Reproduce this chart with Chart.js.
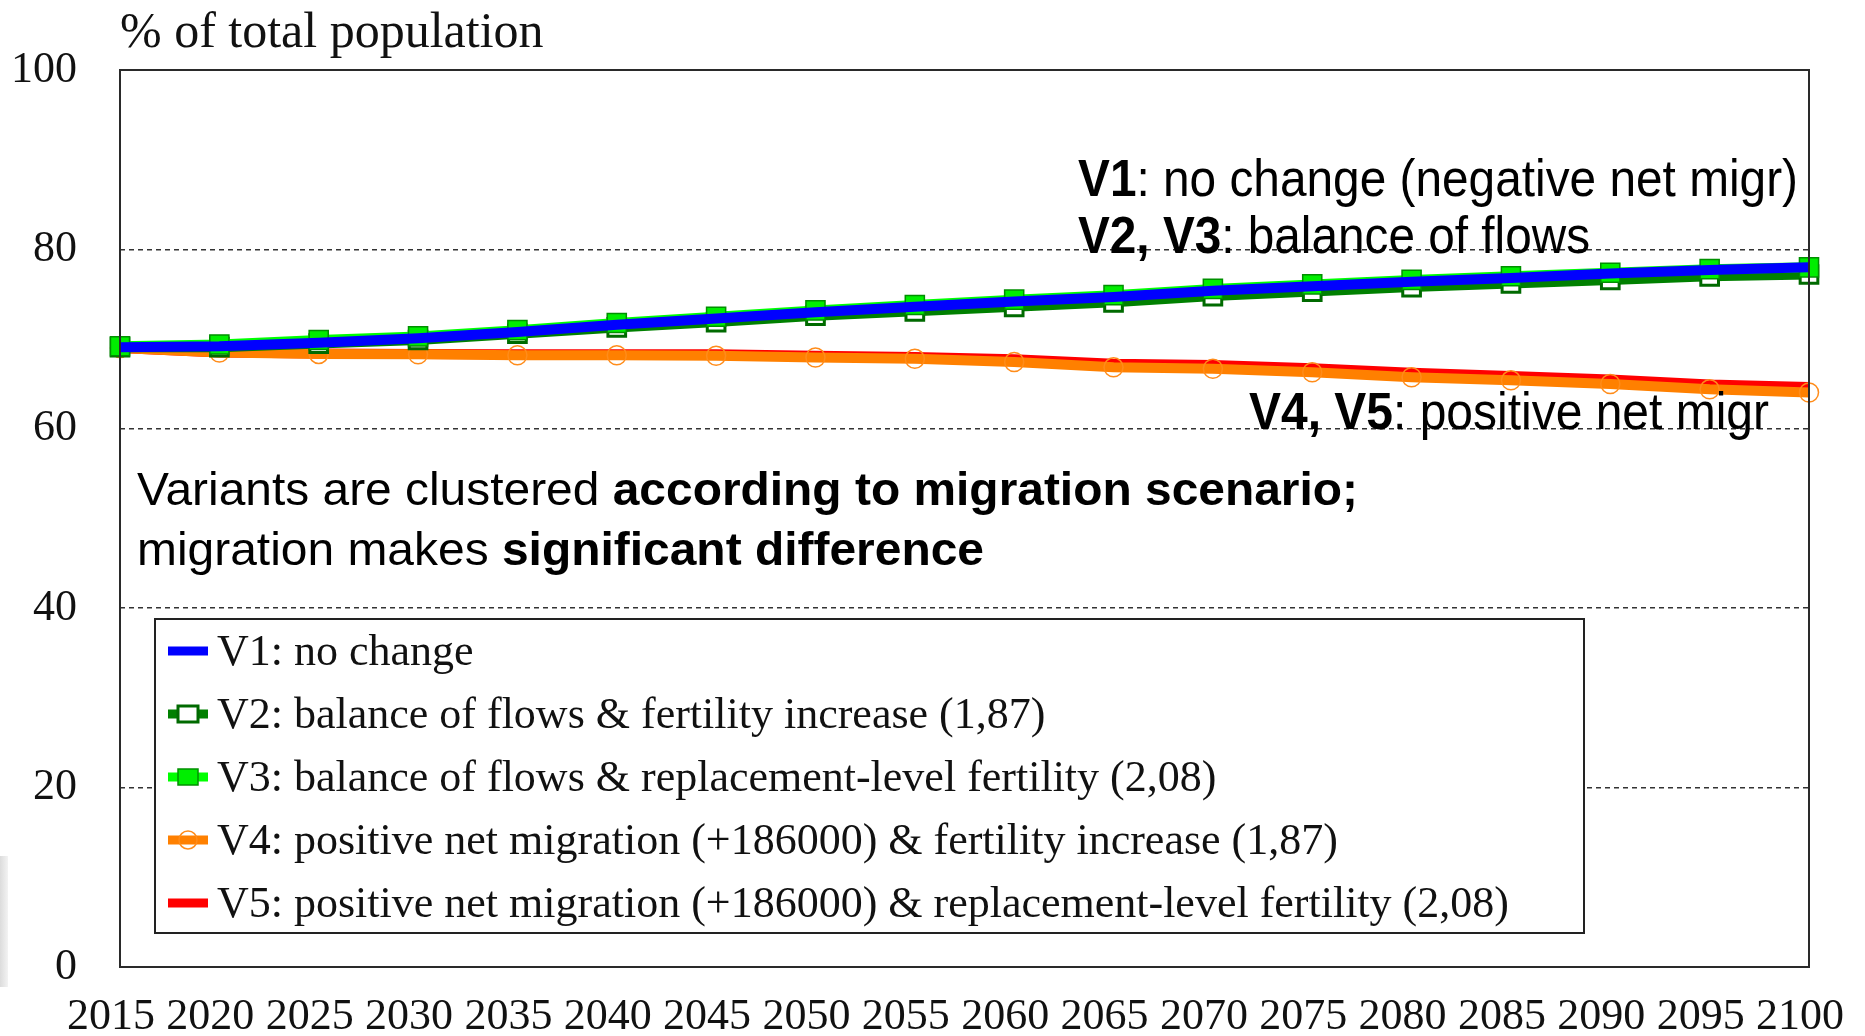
<!DOCTYPE html>
<html><head><meta charset="utf-8">
<script src="https://cdn.jsdelivr.net/npm/chart.js@4.4.1/dist/chart.umd.min.js"></script>
<style>
html,body{margin:0;padding:0;background:#fff;}
#wrap{position:relative;width:1865px;height:1036px;overflow:hidden;}
#shade{position:absolute;left:0;top:856px;width:8px;height:131px;background:linear-gradient(to right,#dcdcdc,#f3f3f3);}
</style></head><body>
<div id="wrap"><canvas id="c" width="1865" height="1036"></canvas><div id="shade"></div></div>
<script>
// ---- data ----
const years = ['2015','2020','2025','2030','2035','2040','2045','2050','2055','2060','2065','2070','2075','2080','2085','2090','2095','2100'];
const yTicks = [0, 20, 40, 60, 80, 100];
const v1 = [69.1, 69.2, 69.6, 70.1, 70.8, 71.6, 72.3, 73.0, 73.6, 74.2, 74.7, 75.4, 75.9, 76.4, 76.8, 77.3, 77.7, 78.0];
const v2 = [69.1, 69.1, 69.5, 69.9, 70.6, 71.3, 71.9, 72.6, 73.1, 73.6, 74.1, 74.8, 75.3, 75.8, 76.2, 76.6, 77.0, 77.2];
const v3 = [69.2, 69.4, 69.9, 70.3, 71.0, 71.8, 72.5, 73.2, 73.8, 74.4, 74.9, 75.6, 76.1, 76.6, 77.0, 77.4, 77.8, 78.0];
const v4 = [69.0, 68.5, 68.35, 68.3, 68.2, 68.2, 68.15, 67.95, 67.8, 67.45, 66.85, 66.7, 66.3, 65.75, 65.4, 65.0, 64.4, 64.05];
const v5 = [69.0, 68.5, 68.4, 68.35, 68.3, 68.3, 68.3, 68.15, 68.0, 67.75, 67.25, 67.1, 66.75, 66.25, 65.9, 65.5, 64.95, 64.65];
const seriesLabels = [
  'V1: no change',
  'V2: balance of flows & fertility increase (1,87)',
  'V3: balance of flows & replacement-level fertility (2,08)',
  'V4: positive net migration (+186000) & fertility increase (1,87)',
  'V5: positive net migration (+186000) & replacement-level fertility (2,08)'
];
const axisTitle = '% of total population';
const noteV1 = [['V1', true], [': no change (negative net migr)', false]];
const noteV23 = [['V2, V3', true], [': balance of flows', false]];
const noteV45 = [['V4, V5', true], [': positive net migr', false]];
const noteLine1 = [['Variants are clustered ', false], ['according to migration scenario;', true]];
const noteLine2 = [['migration makes ', false], ['significant difference', true]];

// ---- drawing ----
const SERIF = '"Liberation Serif","DejaVu Serif","Times New Roman",serif';
const SANS = '"Liberation Sans",Arial,Helvetica,sans-serif';

function drawRuns(ctx, runs, x, y, targetW, size) {
  let total = 0;
  runs.forEach(r => { ctx.font = (r[1] ? 'bold ' : '') + size + 'px ' + SANS; total += ctx.measureText(r[0]).width; });
  const sx = targetW / total;
  ctx.save();
  ctx.translate(x, y); ctx.scale(sx, 1);
  ctx.fillStyle = '#000'; ctx.textBaseline = 'alphabetic'; ctx.textAlign = 'left';
  let cx = 0;
  runs.forEach(r => {
    ctx.font = (r[1] ? 'bold ' : '') + size + 'px ' + SANS;
    ctx.fillText(r[0], cx, 0);
    cx += ctx.measureText(r[0]).width;
  });
  ctx.restore();
}

const decor = {
  id: 'decor',
  afterDatasetsDraw(chart) {
    const ctx = chart.ctx, ca = chart.chartArea;
    ctx.save();
    // plot frame
    ctx.strokeStyle = '#2a2a2a'; ctx.lineWidth = 2;
    ctx.strokeRect(ca.left, ca.top, ca.right - ca.left, ca.bottom - ca.top);
    // axis title
    ctx.fillStyle = '#111'; ctx.font = '50px ' + SERIF; ctx.textBaseline = 'alphabetic'; ctx.textAlign = 'left';
    ctx.fillText(axisTitle, 120, 47);
    // legend box
    const lx = 155, ly = 619, lw = 1429, lh = 314;
    ctx.fillStyle = '#fff'; ctx.fillRect(lx, ly, lw, lh);
    ctx.strokeStyle = '#222'; ctx.lineWidth = 2; ctx.strokeRect(lx, ly, lw, lh);
    chart.data.datasets.forEach((ds, i) => {
      const cy = 651 + 63 * i;
      ctx.strokeStyle = ds.borderColor; ctx.lineWidth = 9;
      ctx.beginPath(); ctx.moveTo(168, cy); ctx.lineTo(208, cy); ctx.stroke();
      if (ds.pointRadius > 0) {
        ctx.lineWidth = ds.pointBorderWidth;
        ctx.strokeStyle = ds.pointBorderColor; ctx.fillStyle = ds.pointBackgroundColor;
        if (ds.pointStyle === 'rect') {
          ctx.fillRect(178, cy - 8, 20, 16); ctx.strokeRect(178, cy - 8, 20, 16);
        } else {
          ctx.beginPath(); ctx.arc(188, cy, 9, 0, Math.PI * 2); ctx.stroke();
        }
      }
      ctx.fillStyle = '#111'; ctx.font = '44px ' + SERIF; ctx.textAlign = 'left';
      ctx.fillText(ds.label, 217, cy + 14);
    });
    // annotations
    drawRuns(ctx, noteV1, 1078, 196, 720, 52);
    drawRuns(ctx, noteV23, 1078, 253, 512, 52);
    drawRuns(ctx, noteV45, 1249, 429, 520, 52);
    drawRuns(ctx, noteLine1, 137, 505, 1221, 46);
    drawRuns(ctx, noteLine2, 137, 565, 847, 46);
    ctx.restore();
  }
};

function ds(label, data, color, extra) {
  return Object.assign({
    label, data, borderColor: color, backgroundColor: color, borderWidth: 10,
    tension: 0, pointRadius: 0, clip: false, fill: false
  }, extra || {});
}

new Chart(document.getElementById('c'), {
  type: 'line',
  data: {
    labels: years,
    datasets: [
      ds(seriesLabels[0], v1, '#0000ff', { order: 0 }),
      ds(seriesLabels[1], v2, '#008000', { order: 2, pointStyle: 'rect', pointRadius: 12.5, pointBackgroundColor: '#ffffff', pointBorderColor: '#006a00', pointBorderWidth: 3 }),
      ds(seriesLabels[2], v3, '#00ff00', { order: 1, pointStyle: 'rect', pointRadius: 13.5, pointBackgroundColor: '#00ee00', pointBorderColor: '#009000', pointBorderWidth: 1.5 }),
      ds(seriesLabels[3], v4, '#ff8000', { order: 3, pointStyle: 'circle', pointRadius: 9.5, pointBackgroundColor: 'rgba(255,255,255,0)', pointBorderColor: '#ff8c1a', pointBorderWidth: 1.5 }),
      ds(seriesLabels[4], v5, '#ff0000', { order: 4 })
    ]
  },
  plugins: [decor],
  options: {
    responsive: false,
    devicePixelRatio: 1,
    animation: false,
    events: [],
    layout: { padding: { top: 70, right: 56, left: 0, bottom: 0 } },
    plugins: { legend: { display: false }, tooltip: { enabled: false }, title: { display: false } },
    scales: {
      x: {
        type: 'category',
        offset: false,
        grid: { display: false, drawTicks: false },
        border: { display: false },
        ticks: { color: '#111', font: { family: SERIF, size: 44 }, padding: 24, labelOffset: -9, maxRotation: 0, autoSkip: false },
        afterFit(s) { s.height = 69; s.paddingLeft = 0; s.paddingRight = 0; }
      },
      y: {
        min: 0, max: 100,
        afterBuildTicks(s) { s.ticks = yTicks.map(v => ({ value: v })); },
        grid: {
          drawTicks: false, lineWidth: 1.5,
          color: c => (c.tick && (c.tick.value === 0 || c.tick.value === 100)) ? 'rgba(0,0,0,0)' : '#333'
        },
        border: { display: false, dash: [5, 4] },
        ticks: { color: '#111', font: { family: SERIF, size: 44 }, padding: 43 },
        afterFit(s) { s.width = 120; s.paddingTop = 0; s.paddingBottom = 0; }
      }
    }
  }
});
</script>
</body></html>
